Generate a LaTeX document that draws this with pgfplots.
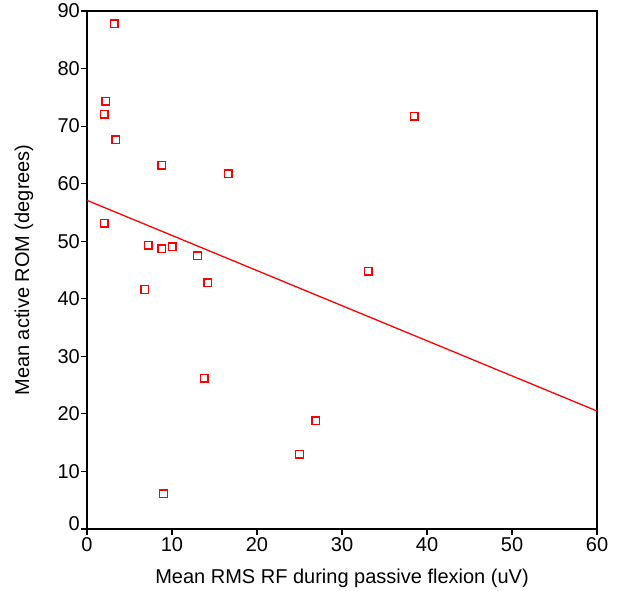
\documentclass[border=0pt]{standalone}
\usepackage{pgfplots}
\pgfplotsset{compat=1.18}
\usepackage{fontspec}
\setmainfont{Liberation Sans}

\begin{document}
\begin{tikzpicture}
\begin{axis}[
  scale only axis,
  width=510pt, height=518pt,
  xmin=0, xmax=60, ymin=0, ymax=90,
  xtick={0,10,...,60}, ytick={0,10,...,90},
  yticklabels={\raisebox{10pt}{0},10,20,30,40,50,60,70,80,90},
  tick align=outside, tick pos=left,
  major tick length=6pt,
  axis line style={line width=1.3pt},
  tick style={line width=1.1pt, black},
  font=\fontsize{20}{24}\selectfont,
  ticklabel style={font=\fontsize{20}{24}\selectfont},
  yticklabel style={inner sep=1pt},
  xticklabel style={inner sep=2pt},
  /pgf/number format/assume math mode=true,
  xlabel={Mean RMS RF during passive flexion (uV)},
  ylabel={Mean active ROM (degrees)},
  every axis x label/.style={at={(rel axis cs:0.5,0)}, yshift=-49pt, anchor=center},
  every axis y label/.style={at={(rel axis cs:0,0.5)}, xshift=-63pt, rotate=90, anchor=center},
  clip=false,
]
\addplot[scatter, only marks, mark=square, mark size=3.8pt,
  point meta=explicit symbolic,
  scatter/@pre marker code/.code={\pgfsetstrokecolor{red}\pgfsetlinewidth{1.4pt}},
  scatter/@post marker code/.code={}] coordinates {
  (3.2,87.8) [a] (2.2,74.3) [a] (2.0,72.1) [a] (3.4,67.6) [a] (8.8,63.2) [a] (2.0,53.1) [a]
  (7.2,49.3) [a] (8.8,48.7) [a] (10.0,49.0) [a] (13.0,47.5) [a] (14.2,42.8) [a] (6.8,41.6) [a]
  (16.6,61.7) [a] (38.5,71.7) [a] (33.1,44.8) [a] (13.8,26.2) [a] (26.9,18.8) [a] (25.0,13.0) [a]
  (9.0,6.1) [a]
};
\addplot[red, line width=1.3pt, no marks] coordinates {(0,57.1) (60,20.5)};
\path (rel axis cs:0,0) ++(-87pt,-62pt) (rel axis cs:1,1) ++(22pt,11pt);
\end{axis}
\end{tikzpicture}
\end{document}
